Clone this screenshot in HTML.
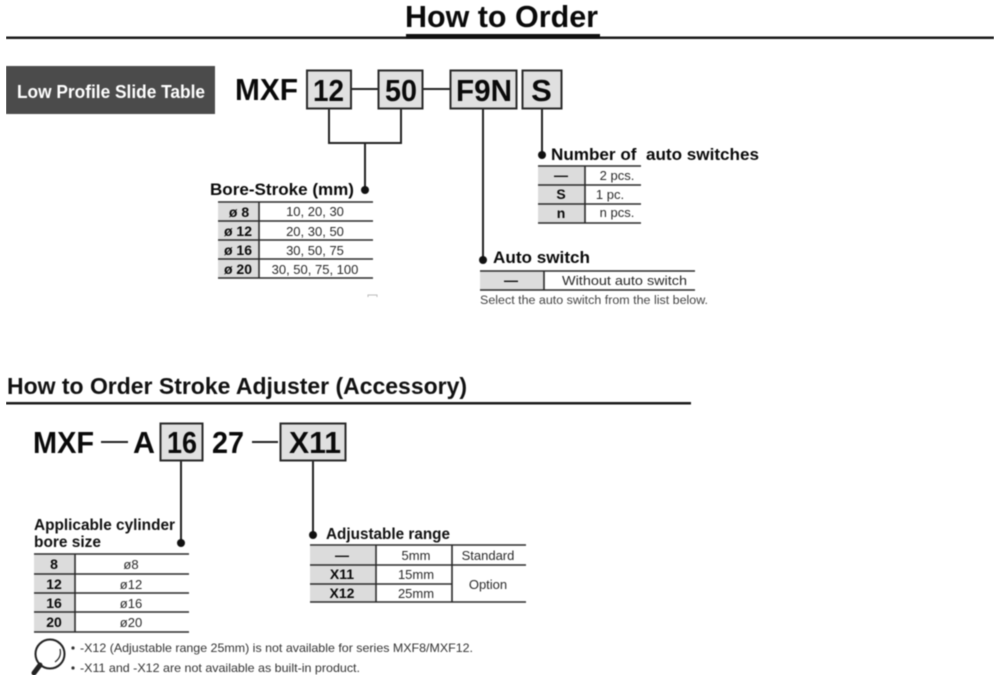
<!DOCTYPE html>
<html><head><meta charset="utf-8"><style>
html,body{margin:0;padding:0;background:#fff}
svg{display:block}
text{font-family:"Liberation Sans",sans-serif;fill:#111}
.b{font-weight:bold}
.m{text-anchor:middle}
.l{stroke:#222;fill:none;stroke-width:2}
.t{stroke:#2a2a2a;fill:none;stroke-width:1.6}
.g{fill:#dcdcdc}
.box{fill:#e0e0e0;stroke:#2a2a2a;stroke-width:2}
.big{font-size:31px;font-weight:bold;fill:#0a0a0a}
.c{font-size:13px;fill:#2a2a2a}
.k{font-size:14px;font-weight:bold;fill:#0a0a0a}
.h{font-size:17px;font-weight:bold;fill:#0a0a0a}
</style></head><body>
<svg width="1000" height="680" viewBox="0 0 1000 680" xmlns="http://www.w3.org/2000/svg">
<defs><filter id="s" x="0" y="0" width="100%" height="100%" color-interpolation-filters="sRGB"><feGaussianBlur stdDeviation="0.4"/></filter></defs>
<rect width="1000" height="680" fill="#fff"/>
<g filter="url(#s)">
<text x="405" y="27" class="b" font-size="31" textLength="193" lengthAdjust="spacingAndGlyphs" style="fill:#0a0a0a">How to Order</text>
<rect x="6" y="36.5" width="988" height="2.5" fill="#1a1a1a"/>
<rect x="406" y="34" width="194" height="5" fill="#111"/>
<rect x="6" y="66" width="209" height="48" fill="#4b4b4b"/>
<text x="17" y="98" class="b" font-size="18.5" textLength="188" lengthAdjust="spacingAndGlyphs" style="fill:#fff">Low Profile Slide Table</text>

<text x="235" y="100" class="big" textLength="63" lengthAdjust="spacingAndGlyphs">MXF</text>
<path class="l" d="M351 89H378M422 89H450M329 108V143H401V108M365 143V190M483 108V260M542 108V155"/>
<rect class="box" x="307" y="70.5" width="44" height="38"/>
<rect class="box" x="378.5" y="70.5" width="44" height="38"/>
<rect class="box" x="450.5" y="70.5" width="66" height="38"/>
<rect class="box" x="522.5" y="70.5" width="39" height="38"/>
<text x="313" y="101" class="big" textLength="31" lengthAdjust="spacingAndGlyphs">12</text>
<text x="385" y="101" class="big" textLength="32" lengthAdjust="spacingAndGlyphs">50</text>
<text x="456" y="101" class="big" textLength="56" lengthAdjust="spacingAndGlyphs">F9N</text>
<text x="541.5" y="101" class="big m">S</text>
<circle cx="365" cy="190" r="4" fill="#111"/>
<circle cx="483" cy="260" r="4" fill="#111"/>
<circle cx="542" cy="155" r="4" fill="#111"/>

<text x="210" y="195" class="h" textLength="144" lengthAdjust="spacingAndGlyphs">Bore-Stroke (mm)</text>
<rect class="g" x="218" y="203" width="40" height="75"/>
<path class="t" d="M218 202H373M218 221H373M218 240H373M218 259H373M218 278H373M259 202V278"/>
<text x="239" y="217" class="k m">ø 8</text><text x="238" y="236" class="k m">ø 12</text><text x="238" y="255" class="k m">ø 16</text><text x="238" y="274" class="k m">ø 20</text>
<text x="315" y="216" class="c m">10, 20, 30</text><text x="315" y="236" class="c m">20, 30, 50</text><text x="315" y="255" class="c m">30, 50, 75</text><text x="315" y="274" class="c m">30, 50, 75, 100</text>
<path d="M368 297V295H377V297" stroke="#bbb" fill="none"/>

<text x="551" y="160" class="h" textLength="208" lengthAdjust="spacingAndGlyphs" xml:space="preserve">Number of  auto switches</text>
<rect class="g" x="538" y="166" width="47" height="57"/>
<path class="t" d="M538 166H641M538 185H641M538 204H641M538 223H641M585 166V223"/>
<text x="561" y="180" class="k m">—</text><text x="561" y="199" class="k m">S</text><text x="561" y="218" class="k m">n</text>
<text x="617" y="180" class="c m">2 pcs.</text><text x="610" y="199" class="c m">1 pc.</text><text x="617" y="217" class="c m">n pcs.</text>

<text x="493" y="263" class="h" textLength="97" lengthAdjust="spacingAndGlyphs">Auto switch</text>
<rect class="g" x="480" y="271" width="64" height="19"/>
<path class="t" d="M480 271H695M480 290H695M544 271V290"/>
<text x="511" y="285" class="k m">—</text>
<text x="562" y="285" class="c" textLength="125" lengthAdjust="spacingAndGlyphs">Without auto switch</text>
<text x="480" y="304" font-size="11.5" textLength="228" lengthAdjust="spacingAndGlyphs" style="fill:#444">Select the auto switch from the list below.</text>

<text x="7" y="394" class="b" font-size="23" textLength="460" lengthAdjust="spacingAndGlyphs">How to Order Stroke Adjuster (Accessory)</text>
<rect x="6" y="402" width="685" height="2.5" fill="#1a1a1a"/>

<text x="33" y="453" class="big" textLength="61" lengthAdjust="spacingAndGlyphs">MXF</text>
<path class="l" d="M101 442H128M252 442H278M181 461V543M313 461V535"/>
<text x="133" y="453" class="big" textLength="22" lengthAdjust="spacingAndGlyphs">A</text>
<rect class="box" x="160.5" y="423.5" width="42" height="37"/>
<text x="167" y="453" class="big" textLength="30" lengthAdjust="spacingAndGlyphs">16</text>
<text x="212" y="453" class="big" textLength="32" lengthAdjust="spacingAndGlyphs">27</text>
<rect class="box" x="280.5" y="423.5" width="65" height="37"/>
<text x="289" y="453" class="big" textLength="52" lengthAdjust="spacingAndGlyphs">X11</text>
<circle cx="181" cy="543" r="4" fill="#111"/>
<circle cx="313" cy="535" r="4" fill="#111"/>

<text x="34" y="530" class="b" font-size="16" textLength="141" lengthAdjust="spacingAndGlyphs">Applicable cylinder</text>
<text x="34" y="547" class="b" font-size="16" textLength="67" lengthAdjust="spacingAndGlyphs">bore size</text>
<rect class="g" x="34" y="554" width="40" height="78"/>
<path class="t" d="M34 554H189M34 574H189M34 593H189M34 612H189M34 632H189M75 554V632"/>
<text x="54" y="569" class="k m">8</text><text x="54" y="589" class="k m">12</text><text x="54" y="608" class="k m">16</text><text x="54" y="627" class="k m">20</text>
<text x="131" y="569" class="c m">ø8</text><text x="131" y="589" class="c m">ø12</text><text x="131" y="608" class="c m">ø16</text><text x="131" y="627" class="c m">ø20</text>

<text x="326" y="539" class="b" font-size="15.5" textLength="124" lengthAdjust="spacingAndGlyphs">Adjustable range</text>
<rect class="g" x="310" y="546" width="65" height="56"/>
<path class="t" d="M310 545H526M310 565H526M310 584H452M310 602H526M376 545V602M452 545V602"/>
<text x="342" y="560" class="k m">—</text><text x="342" y="579" class="k m">X11</text><text x="342" y="598" class="k m">X12</text>
<text x="416" y="560" class="c m">5mm</text><text x="416" y="579" class="c m">15mm</text><text x="416" y="598" class="c m">25mm</text>
<text x="488" y="560" class="c m">Standard</text><text x="488" y="589" class="c m">Option</text>

<circle cx="50" cy="654" r="14.5" fill="none" stroke="#222" stroke-width="2"/>
<path d="M40 665L34 673" stroke="#222" stroke-width="5" stroke-linecap="round"/>
<path d="M60 649Q62 657 55 662" stroke="#222" stroke-width="1.2" fill="none"/>
<circle cx="73" cy="648" r="1.6" fill="#333"/><circle cx="73" cy="668" r="1.6" fill="#333"/>
<text x="80" y="652" font-size="12" textLength="393" lengthAdjust="spacingAndGlyphs" style="fill:#333">-X12 (Adjustable range 25mm) is not available for series MXF8/MXF12.</text>
<text x="80" y="672" font-size="12" textLength="280" lengthAdjust="spacingAndGlyphs" style="fill:#333">-X11 and -X12 are not available as built-in product.</text>
</g>
</svg>
</body></html>
